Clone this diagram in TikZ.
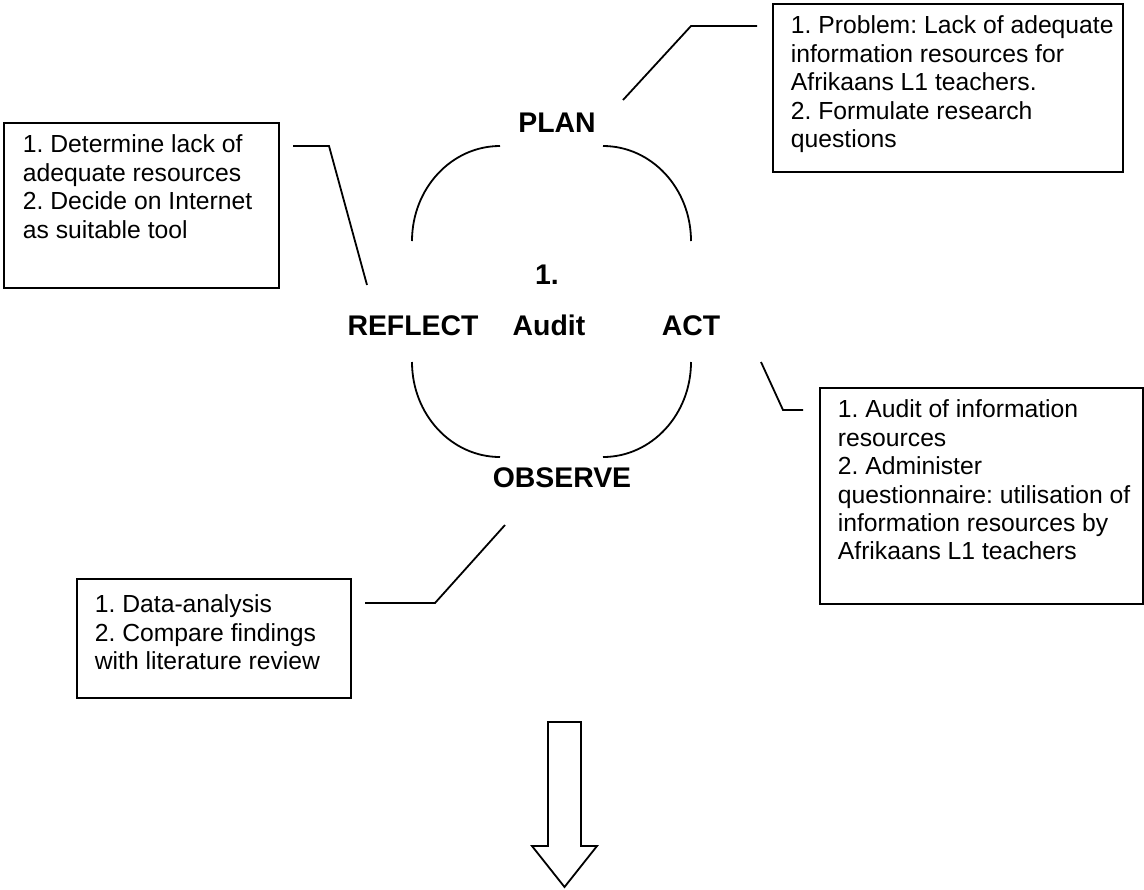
\documentclass[tikz,border=0pt]{standalone}
\usepackage{fontspec}
\setmainfont{Liberation Sans}
\usetikzlibrary{positioning}
\frenchspacing

\begin{document}
\begin{tikzpicture}[x=0.5pt,y=-0.5pt,line width=0.9pt,
   stage/.style={font=\fontsize{14.2}{17}\selectfont\bfseries,inner sep=0,anchor=base},
   note/.style={draw,inner sep=0,anchor=north west},
   notetext/.style={font=\fontsize{12.35}{14.2}\selectfont,align=left,inner sep=0,anchor=north west}]
  \useasboundingbox (0,0) rectangle (1144,889);
  % cycle
  \node[stage] (plan) at (557,132) {PLAN};
  \node[stage] (reflect) at (413,335) {REFLECT};
  \node[stage] (audit) at (549,335) {Audit};
  \node[stage] (act) at (691,335) {ACT};
  \node[stage] (observe) at (562,487) {OBSERVE};
  \node[stage] (num) at (547,284) {1.};
  \foreach \sx/\sy/\a/\b in {412/241/180/270, 603/146/270/360, 412/362/180/90, 603/457/90/0}
    \draw (\sx,\sy) arc[start angle=\a,end angle=\b,x radius=88,y radius=95];
  % boxes
  \node[note,minimum width=175pt,minimum height=84pt] (planbox) at (772,3) {};
  \node[notetext] (plantext) at ([shift={(18,12)}]planbox.north west)
       {1. Problem: Lack of adequate\\information resources for\\Afrikaans L1 teachers.\\2. Formulate research\\questions};
  \node[note,minimum width=137.5pt,minimum height=82.5pt] (reflectbox) at (3,122) {};
  \node[notetext] (reflecttext) at ([shift={(19,12)}]reflectbox.north west)
       {1. Determine lack of\\adequate resources\\2. Decide on Internet\\as suitable tool};
  \node[note,minimum width=161.5pt,minimum height=108pt] (actbox) at (819,387) {};
  \node[notetext] (acttext) at ([shift={(18,12)}]actbox.north west)
       {1. Audit of information\\resources\\2. Administer\\questionnaire: utilisation of\\information resources by\\Afrikaans L1 teachers};
  \node[note,minimum width=137pt,minimum height=59.5pt] (observebox) at (76,578) {};
  \node[notetext] (observetext) at ([shift={(18,16)}]observebox.north west)
       {1. Data-analysis\\2. Compare findings\\with literature review};
  % leader lines
  \coordinate (planA) at (623,100);
  \coordinate (planB) at (757,26);
  \draw (planA) -- (691,26) -- (planB);
  \coordinate (reflectA) at (293,146);
  \coordinate (reflectB) at (367,285);
  \draw (reflectA) -- (329,146) -- (reflectB);
  \coordinate (actA) at (761,362);
  \coordinate (actB) at (803,410);
  \draw (actA) -- (783,410) -- (actB);
  \coordinate (observeA) at (505,525);
  \coordinate (observeB) at (365,603);
  \draw (observeA) -- (435,603) -- (observeB);
  % block arrow
  \draw (548,722) -- (581,722) -- (581,846) -- (597,846) -- (564.5,887)
        -- (532,846) -- (548,846) -- cycle;
\end{tikzpicture}
\end{document}
